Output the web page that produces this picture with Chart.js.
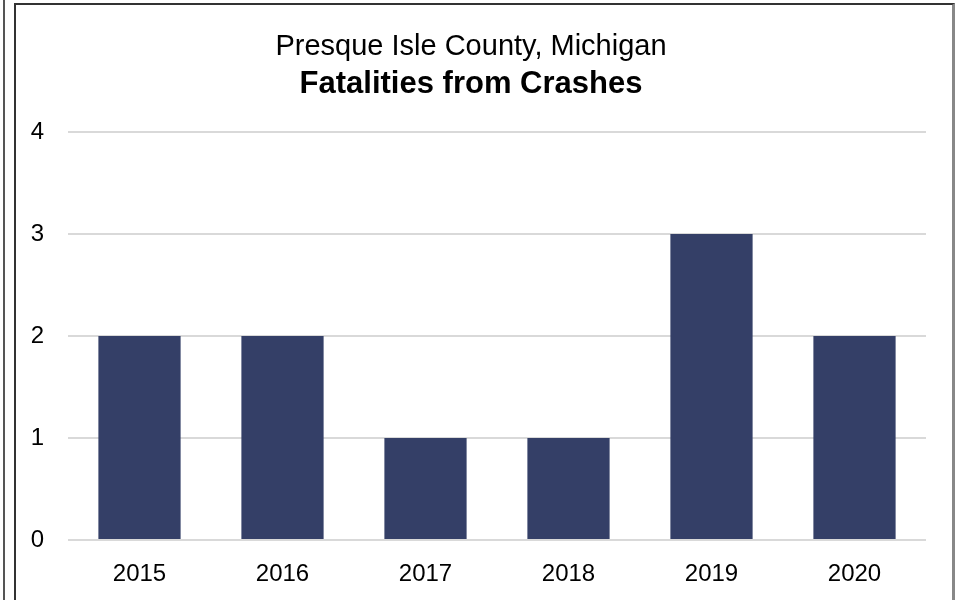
<!DOCTYPE html>
<html>
<head>
<meta charset="utf-8">
<script src="https://cdn.jsdelivr.net/npm/chart.js@4.4.1/dist/chart.umd.min.js"></script>
<style>
  html, body { margin: 0; padding: 0; background: #fff; overflow: hidden; }
  #leftLine { position: absolute; left: 3px; top: 0; width: 2px; height: 600px; background: #555; }
  #box {
    position: absolute; left: 14px; top: 3px; width: 936px; height: 610px;
    border-top: 2px solid #333; border-left: 2px solid #333; border-right: 3px solid #888;
  }
  #wrap { position: absolute; left: 0; top: 0; width: 936px; height: 595px; }
</style>
</head>
<body>
<div id="leftLine"></div>
<div id="box">
  <div id="wrap"><canvas id="fatalChart"></canvas></div>
</div>
<script>
// -------- DATA --------
const years = ['2015', '2016', '2017', '2018', '2019', '2020'];
const fatalities = [2, 2, 1, 1, 3, 2];
const yTicks = [0, 1, 2, 3, 4];

const chartCanvas = document.getElementById('fatalChart');

Chart.defaults.font.family = '"Liberation Sans", Arial, sans-serif';
Chart.defaults.color = '#000';

new Chart(chartCanvas, {
  type: 'bar',
  data: {
    labels: years,
    datasets: [{
      label: 'Fatalities',
      data: fatalities,
      backgroundColor: '#343f67',
      barPercentage: 0.575,
      categoryPercentage: 1
    }]
  },
  options: {
    responsive: true,
    maintainAspectRatio: false,
    animation: false,
    layout: { padding: { left: 0, right: 26, top: 25, bottom: 0 } },
    scales: {
      x: {
        afterFit: scale => { scale.height = 60; },
        grid: { display: false },
        border: { display: false },
        ticks: { font: { size: 24 }, padding: 12 }
      },
      y: {
        min: yTicks[0],
        max: yTicks[yTicks.length - 1],
        afterFit: scale => { scale.width = 52; },
        afterBuildTicks: scale => { scale.ticks = yTicks.map(v => ({ value: v })); },
        grid: { color: '#d9d9d9', lineWidth: 2, drawTicks: false },
        border: { display: false },
        ticks: { font: { size: 24 }, padding: 24 }
      }
    },
    plugins: {
      legend: { display: false },
      tooltip: { enabled: false },
      title: {
        display: true,
        text: 'Presque Isle County, Michigan',
        font: { size: 29, weight: 'normal' },
        padding: { top: 0, bottom: 1 }
      },
      subtitle: {
        display: true,
        text: 'Fatalities from Crashes',
        color: '#000',
        font: { size: 31, weight: 'bold' },
        padding: { top: 0, bottom: 29 }
      }
    }
  }
});
</script>
</body>
</html>
